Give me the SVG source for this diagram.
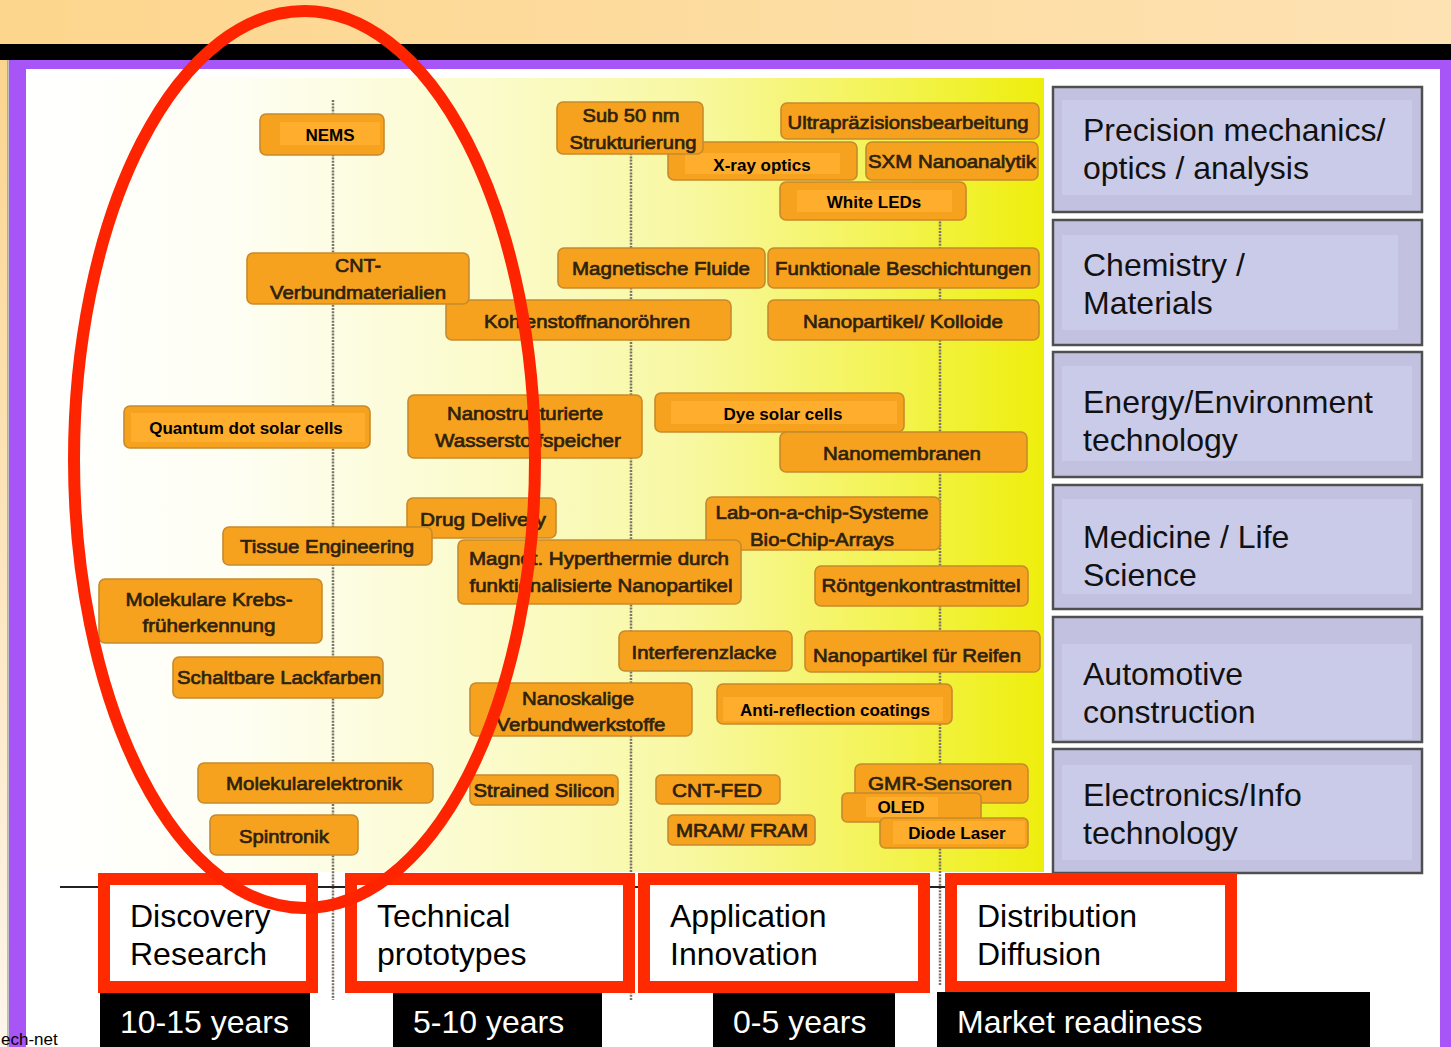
<svg xmlns="http://www.w3.org/2000/svg" width="1451" height="1047" viewBox="0 0 1451 1047">
  <defs>
    <linearGradient id="topBand" x1="0" y1="0" x2="1" y2="0">
      <stop offset="0" stop-color="#fdd68d"/>
      <stop offset="1" stop-color="#fde2b3"/>
    </linearGradient>
    <linearGradient id="leftStrip" x1="0" y1="0" x2="0" y2="1">
      <stop offset="0" stop-color="#fbd58f"/>
      <stop offset="1" stop-color="#fdf6ec"/>
    </linearGradient>
    <linearGradient id="chartBg" x1="0" y1="0" x2="1" y2="0">
      <stop offset="0" stop-color="#ffffff"/>
      <stop offset="0.2" stop-color="#fefef4"/>
      <stop offset="0.45" stop-color="#fbfbcc"/>
      <stop offset="0.65" stop-color="#f8f8a2"/>
      <stop offset="0.85" stop-color="#f3f352"/>
      <stop offset="1" stop-color="#eeee0c"/>
    </linearGradient>
    <style>
      .node { fill: #f6a21f; stroke: #c68a2c; stroke-width: 1.6; }
      .tag { fill: #ffad2c; }
      .de { font-family: "Liberation Sans", Arial, sans-serif; font-size: 19px; fill: #2e220e; stroke: #2e220e; stroke-width: 0.7; text-anchor: middle; }
      .en { font-family: "Liberation Sans", Arial, sans-serif; font-size: 17px; font-weight: bold; fill: #000; text-anchor: middle; }
      .panel { fill: #c2c2e0; stroke: #4f4f4f; stroke-width: 2.5; }
      .panelIn { fill: #cacbe8; }
      .cat { font-family: "Liberation Sans", Arial, sans-serif; font-size: 32px; fill: #111; }
      .phase { fill: #ffffff; stroke: #ff2a00; stroke-width: 12; }
      .phaseTxt { font-family: "Liberation Sans", Arial, sans-serif; font-size: 32px; fill: #000; }
      .bar { fill: #000; }
      .barTxt { font-family: "Liberation Sans", Arial, sans-serif; font-size: 32px; fill: #fff; }
      .grid { stroke: #7a7468; stroke-width: 2.5; stroke-dasharray: 2 1.2; fill: none; }
    </style>
  </defs>

  <!-- page frame -->
  <rect x="0" y="0" width="1451" height="44" fill="url(#topBand)"/>
  <rect x="0" y="44" width="1451" height="16" fill="#000"/>
  <rect x="0" y="60" width="8" height="987" fill="url(#leftStrip)"/>
  <line x1="8" y1="60" x2="8" y2="1047" stroke="#555" stroke-width="1.2" opacity="0.6"/>
  <rect x="9" y="60" width="1442" height="987" fill="#a855f8"/>
  <rect x="26" y="69" width="1414" height="978" fill="#ffffff"/>

  <!-- chart field -->
  <rect x="26" y="78" width="1018" height="794" fill="url(#chartBg)"/>

  <!-- phase separators and time axis -->
  <g id="connectors">
    <line class="grid" x1="333" y1="100" x2="333" y2="1000"/>
    <line class="grid" x1="631" y1="150" x2="631" y2="1000"/>
    <line class="grid" x1="940" y1="215" x2="940" y2="985"/>
    <line x1="60" y1="887" x2="948" y2="887" stroke="#222" stroke-width="2"/>
  </g>

  <!-- technology nodes -->
  <g id="n-nems">
    <rect class="node" x="260" y="114" width="124" height="41" rx="6"/>
    <rect class="tag" x="280" y="122" width="100" height="23"/>
    <text class="en" x="330" y="141">NEMS</text>
  </g>
  <g id="n-xray">
    <rect class="node" x="668" y="142" width="189" height="38" rx="6"/>
    <rect class="tag" x="685" y="153" width="155" height="21"/>
    <text class="en" x="762" y="171">X-ray optics</text>
  </g>
  <g id="n-sub50">
    <rect class="node" x="557" y="102" width="146" height="52" rx="6"/>
    <text class="de" x="631" y="122" textLength="97" lengthAdjust="spacingAndGlyphs">Sub 50 nm</text>
    <text class="de" x="633" y="149" textLength="127" lengthAdjust="spacingAndGlyphs">Strukturierung</text>
  </g>
  <g id="n-ultra">
    <rect class="node" x="781" y="103" width="258" height="36" rx="6"/>
    <text class="de" x="908" y="129" textLength="241" lengthAdjust="spacingAndGlyphs">Ultrapräzisionsbearbeitung</text>
  </g>
  <g id="n-sxm">
    <rect class="node" x="866" y="142" width="172" height="38" rx="6"/>
    <text class="de" x="952" y="168" textLength="168" lengthAdjust="spacingAndGlyphs">SXM Nanoanalytik</text>
  </g>
  <g id="n-whiteleds">
    <rect class="node" x="780" y="182" width="186" height="38" rx="6"/>
    <rect class="tag" x="797" y="190" width="155" height="22"/>
    <text class="en" x="874" y="208">White LEDs</text>
  </g>

  <g id="n-kohlenstoff">
    <rect class="node" x="446" y="300" width="285" height="40" rx="6"/>
    <text class="de" x="587" y="328" textLength="206" lengthAdjust="spacingAndGlyphs">Kohlenstoffnanoröhren</text>
  </g>
  <g id="n-cnt">
    <rect class="node" x="247" y="253" width="222" height="51" rx="6"/>
    <text class="de" x="358" y="272" textLength="46" lengthAdjust="spacingAndGlyphs">CNT-</text>
    <text class="de" x="358" y="299" textLength="176" lengthAdjust="spacingAndGlyphs">Verbundmaterialien</text>
  </g>
  <g id="n-magfluide">
    <rect class="node" x="558" y="248" width="207" height="40" rx="6"/>
    <text class="de" x="661" y="275" textLength="178" lengthAdjust="spacingAndGlyphs">Magnetische Fluide</text>
  </g>
  <g id="n-funktional">
    <rect class="node" x="768" y="248" width="271" height="40" rx="6"/>
    <text class="de" x="903" y="275" textLength="256" lengthAdjust="spacingAndGlyphs">Funktionale Beschichtungen</text>
  </g>
  <g id="n-kolloide">
    <rect class="node" x="768" y="300" width="271" height="40" rx="6"/>
    <text class="de" x="903" y="328" textLength="200" lengthAdjust="spacingAndGlyphs">Nanopartikel/ Kolloide</text>
  </g>

  <g id="n-qdsolar">
    <rect class="node" x="124" y="406" width="246" height="42" rx="6"/>
    <rect class="tag" x="131" y="413" width="234" height="29"/>
    <text class="en" x="246" y="434">Quantum dot solar cells</text>
  </g>
  <g id="n-wasserstoff">
    <rect class="node" x="408" y="395" width="234" height="63" rx="6"/>
    <text class="de" x="525" y="420" textLength="156" lengthAdjust="spacingAndGlyphs">Nanostrukturierte</text>
    <text class="de" x="528" y="447" textLength="186" lengthAdjust="spacingAndGlyphs">Wasserstoffspeicher</text>
  </g>
  <g id="n-dye">
    <rect class="node" x="655" y="393" width="249" height="39" rx="6"/>
    <rect class="tag" x="671" y="401" width="226" height="23"/>
    <text class="en" x="783" y="420">Dye solar cells</text>
  </g>
  <g id="n-nanomembranen">
    <rect class="node" x="780" y="432" width="247" height="40" rx="6"/>
    <text class="de" x="902" y="460" textLength="158" lengthAdjust="spacingAndGlyphs">Nanomembranen</text>
  </g>

  <g id="n-drug">
    <rect class="node" x="407" y="498" width="149" height="40" rx="6"/>
    <text class="de" x="483" y="526" textLength="126" lengthAdjust="spacingAndGlyphs">Drug Delivery</text>
  </g>
  <g id="n-tissue">
    <rect class="node" x="223" y="527" width="209" height="38" rx="6"/>
    <text class="de" x="327" y="553" textLength="174" lengthAdjust="spacingAndGlyphs">Tissue Engineering</text>
  </g>
  <g id="n-labchip">
    <rect class="node" x="706" y="497" width="234" height="53" rx="6"/>
    <text class="de" x="822" y="519" textLength="213" lengthAdjust="spacingAndGlyphs">Lab-on-a-chip-Systeme</text>
    <text class="de" x="822" y="546" textLength="144" lengthAdjust="spacingAndGlyphs">Bio-Chip-Arrays</text>
  </g>
  <g id="n-hyperthermie">
    <rect class="node" x="458" y="540" width="283" height="64" rx="6"/>
    <text class="de" x="599" y="565" textLength="260" lengthAdjust="spacingAndGlyphs">Magnet. Hyperthermie durch</text>
    <text class="de" x="601" y="592" textLength="263" lengthAdjust="spacingAndGlyphs">funktionalisierte Nanopartikel</text>
  </g>
  <g id="n-roentgen">
    <rect class="node" x="815" y="566" width="213" height="40" rx="6"/>
    <text class="de" x="921" y="592" textLength="199" lengthAdjust="spacingAndGlyphs">Röntgenkontrastmittel</text>
  </g>
  <g id="n-krebs">
    <rect class="node" x="99" y="579" width="223" height="64" rx="6"/>
    <text class="de" x="209" y="606" textLength="167" lengthAdjust="spacingAndGlyphs">Molekulare Krebs-</text>
    <text class="de" x="209" y="632" textLength="133" lengthAdjust="spacingAndGlyphs">früherkennung</text>
  </g>
  <g id="n-lackfarben">
    <rect class="node" x="173" y="657" width="210" height="41" rx="6"/>
    <text class="de" x="279" y="684" textLength="204" lengthAdjust="spacingAndGlyphs">Schaltbare Lackfarben</text>
  </g>
  <g id="n-interferenz">
    <rect class="node" x="619" y="631" width="173" height="40" rx="6"/>
    <text class="de" x="704" y="659" textLength="145" lengthAdjust="spacingAndGlyphs">Interferenzlacke</text>
  </g>
  <g id="n-reifen">
    <rect class="node" x="805" y="631" width="235" height="41" rx="6"/>
    <text class="de" x="917" y="662" textLength="208" lengthAdjust="spacingAndGlyphs">Nanopartikel für Reifen</text>
  </g>
  <g id="n-verbundwerkstoffe">
    <rect class="node" x="470" y="683" width="222" height="53" rx="6"/>
    <text class="de" x="578" y="705" textLength="112" lengthAdjust="spacingAndGlyphs">Nanoskalige</text>
    <text class="de" x="581" y="731" textLength="169" lengthAdjust="spacingAndGlyphs">Verbundwerkstoffe</text>
  </g>
  <g id="n-antireflection">
    <rect class="node" x="717" y="684" width="235" height="40" rx="6"/>
    <rect class="tag" x="723" y="697" width="220" height="24"/>
    <text class="en" x="835" y="716">Anti-reflection coatings</text>
  </g>

  <g id="n-molelektronik">
    <rect class="node" x="198" y="763" width="235" height="40" rx="6"/>
    <text class="de" x="314" y="790" textLength="176" lengthAdjust="spacingAndGlyphs">Molekularelektronik</text>
  </g>
  <g id="n-spintronik">
    <rect class="node" x="210" y="815" width="148" height="40" rx="6"/>
    <text class="de" x="284" y="843" textLength="90" lengthAdjust="spacingAndGlyphs">Spintronik</text>
  </g>
  <g id="n-strained">
    <rect class="node" x="470" y="775" width="148" height="30" rx="5"/>
    <text class="de" x="544" y="797" textLength="141" lengthAdjust="spacingAndGlyphs">Strained Silicon</text>
  </g>
  <g id="n-cntfed">
    <rect class="node" x="656" y="775" width="124" height="29" rx="5"/>
    <text class="de" x="717" y="797" textLength="90" lengthAdjust="spacingAndGlyphs">CNT-FED</text>
  </g>
  <g id="n-mram">
    <rect class="node" x="668" y="815" width="147" height="30" rx="5"/>
    <text class="de" x="742" y="837" textLength="132" lengthAdjust="spacingAndGlyphs">MRAM/ FRAM</text>
  </g>
  <g id="n-gmr">
    <rect class="node" x="855" y="764" width="173" height="39" rx="6"/>
    <text class="de" x="940" y="790" textLength="144" lengthAdjust="spacingAndGlyphs">GMR-Sensoren</text>
  </g>
  <g id="n-oled">
    <rect class="node" x="842" y="793" width="139" height="29" rx="5"/>
    <rect class="tag" x="866" y="797" width="72" height="20"/>
    <text class="en" x="901" y="813">OLED</text>
  </g>
  <g id="n-diodelaser">
    <rect class="node" x="880" y="818" width="148" height="30" rx="5"/>
    <rect class="tag" x="893" y="821" width="132" height="23"/>
    <text class="en" x="957" y="839">Diode Laser</text>
  </g>

  <!-- application field panels -->
  <g id="cat-precision">
    <rect class="panel" x="1053" y="87" width="369" height="125"/>
    <rect class="panelIn" x="1062" y="100" width="350" height="95"/>
    <text class="cat" x="1083" y="141">Precision mechanics/</text>
    <text class="cat" x="1083" y="179">optics / analysis</text>
  </g>
  <g id="cat-chemistry">
    <rect class="panel" x="1053" y="220" width="369" height="125"/>
    <rect class="panelIn" x="1062" y="235" width="336" height="95"/>
    <text class="cat" x="1083" y="276">Chemistry /</text>
    <text class="cat" x="1083" y="314">Materials</text>
  </g>
  <g id="cat-energy">
    <rect class="panel" x="1053" y="352" width="369" height="125"/>
    <rect class="panelIn" x="1062" y="366" width="350" height="95"/>
    <text class="cat" x="1083" y="413">Energy/Environment</text>
    <text class="cat" x="1083" y="451">technology</text>
  </g>
  <g id="cat-medicine">
    <rect class="panel" x="1053" y="485" width="369" height="124"/>
    <rect class="panelIn" x="1062" y="499" width="350" height="95"/>
    <text class="cat" x="1083" y="548">Medicine / Life</text>
    <text class="cat" x="1083" y="586">Science</text>
  </g>
  <g id="cat-automotive">
    <rect class="panel" x="1053" y="617" width="369" height="125"/>
    <rect class="panelIn" x="1062" y="644" width="350" height="95"/>
    <text class="cat" x="1083" y="685">Automotive</text>
    <text class="cat" x="1083" y="723">construction</text>
  </g>
  <g id="cat-electronics">
    <rect class="panel" x="1053" y="749" width="369" height="124"/>
    <rect class="panelIn" x="1062" y="765" width="350" height="95"/>
    <text class="cat" x="1083" y="806">Electronics/Info</text>
    <text class="cat" x="1083" y="844">technology</text>
  </g>

  <!-- development phases -->
  <g id="phase-discovery">
    <rect class="phase" x="104" y="879" width="208" height="108"/>
    <text class="phaseTxt" x="130" y="927">Discovery</text>
    <text class="phaseTxt" x="130" y="965">Research</text>
  </g>
  <g id="phase-technical">
    <rect class="phase" x="351" y="879" width="278" height="108"/>
    <text class="phaseTxt" x="377" y="927">Technical</text>
    <text class="phaseTxt" x="377" y="965">prototypes</text>
  </g>
  <g id="phase-application">
    <rect class="phase" x="644" y="879" width="280" height="108"/>
    <text class="phaseTxt" x="670" y="927">Application</text>
    <text class="phaseTxt" x="670" y="965">Innovation</text>
  </g>
  <g id="phase-distribution">
    <rect class="phase" x="951" y="879" width="280" height="108"/>
    <text class="phaseTxt" x="977" y="927">Distribution</text>
    <text class="phaseTxt" x="977" y="965">Diffusion</text>
  </g>

  <!-- time horizons -->
  <g id="time-1015">
    <rect class="bar" x="100" y="993" width="210" height="54"/>
    <text class="barTxt" x="120" y="1033">10-15 years</text>
  </g>
  <g id="time-510">
    <rect class="bar" x="393" y="993" width="209" height="54"/>
    <text class="barTxt" x="413" y="1033">5-10 years</text>
  </g>
  <g id="time-05">
    <rect class="bar" x="713" y="993" width="182" height="54"/>
    <text class="barTxt" x="733" y="1033">0-5 years</text>
  </g>
  <g id="time-market">
    <rect class="bar" x="937" y="992" width="433" height="55"/>
    <text class="barTxt" x="957" y="1033">Market readiness</text>
  </g>

  <!-- highlight around the research-stage topics -->
  <ellipse id="highlight" cx="304.5" cy="459.5" rx="230.5" ry="448.5" fill="none" stroke="#ff2400" stroke-width="12"/>

  <text x="1" y="1045" font-family="Liberation Sans, Arial, sans-serif" font-size="17" fill="#000">ech-net</text>
</svg>
